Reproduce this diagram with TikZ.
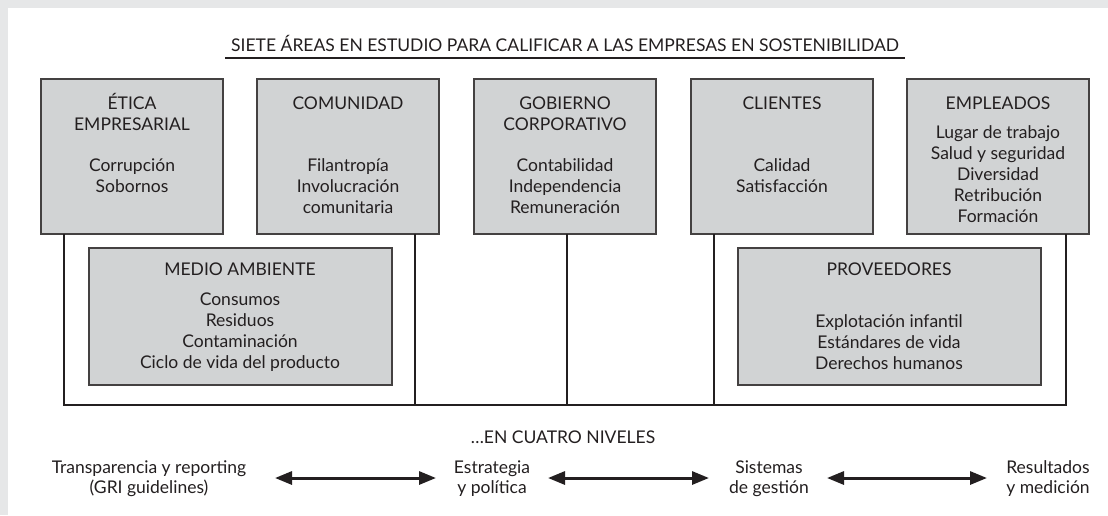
\documentclass[tikz,border=0pt]{standalone}
\usepackage{fontspec}
\setmainfont{Lato}
\usepackage{tikz}
\usetikzlibrary{arrows.meta}
\definecolor{pagegray}{HTML}{E6E7E8}
\definecolor{boxfill}{HTML}{D1D3D4}
\definecolor{ink}{HTML}{231F20}
\tikzset{area/.style={inner sep=0pt, outer sep=0pt, anchor=north west, draw=ink!85, line width=1.1pt, fill=boxfill}}
\tikzset{lbl/.style={inner sep=0pt, anchor=base, text=ink, font=\fontsize{17.5}{21}\selectfont}}
\tikzset{link/.style={draw=ink, line width=2.4pt}}
\tikzset{dbl/.style={draw=ink, line width=3pt, {Triangle[length=17pt,width=13pt]}-{Triangle[length=17pt,width=13pt]}}}

\begin{document}
\begin{tikzpicture}[x=1pt,y=-1pt]
\useasboundingbox (0,0) rectangle (1108,515);
\fill[pagegray] (0,0) rectangle (1108,515);
\fill[white] (8,8) rectangle (1108,515);
% title
\node[lbl] (title) at (565,51) {SIETE ÁREAS EN ESTUDIO PARA CALIFICAR A LAS EMPRESAS EN SOSTENIBILIDAD};
\coordinate (ul) at (225,58);
\coordinate (ur) at (905,58);
\draw[link] (ul) -- (ur);
% seven areas
\node[area, minimum width=182pt, minimum height=155pt] (eti) at (41,79) {};
\node[area, minimum width=182pt, minimum height=155pt] (com) at (257,79) {};
\node[area, minimum width=182pt, minimum height=155pt] (gob) at (474,79) {};
\node[area, minimum width=182pt, minimum height=155pt] (cli) at (691,79) {};
\node[area, minimum width=182pt, minimum height=155pt] (emp) at (907,79) {};
\node[area, minimum width=303pt, minimum height=137pt] (med) at (89,248) {};
\node[area, minimum width=303pt, minimum height=137pt] (pro) at (738,248) {};
\foreach \t [count=\i from 0] in {ÉTICA,EMPRESARIAL} \node[lbl] (eti-h\i) at (132,{109+21*\i}) {\t};
\foreach \t [count=\i from 0] in {Corrupción,Sobornos} \node[lbl] (eti-t\i) at (132,{171+21*\i}) {\t};
\node[lbl] (com-h) at (348,109) {COMUNIDAD};
\foreach \t [count=\i from 0] in {Filantropía,Involucración,comunitaria} \node[lbl] (com-t\i) at (348,{171+21*\i}) {\t};
\foreach \t [count=\i from 0] in {GOBIERNO,CORPORATIVO} \node[lbl] (gob-h\i) at (565,{109+21*\i}) {\t};
\foreach \t [count=\i from 0] in {Contabilidad,Independencia,Remuneración} \node[lbl] (gob-t\i) at (565,{171+21*\i}) {\t};
\node[lbl] (cli-h) at (782,109) {CLIENTES};
\foreach \t [count=\i from 0] in {Calidad,Satisfacción} \node[lbl] (cli-t\i) at (782,{171+21*\i}) {\t};
\node[lbl] (emp-h) at (998,109) {EMPLEADOS};
\foreach \t [count=\i from 0] in {Lugar de trabajo,Salud y seguridad,Diversidad,Retribución,Formación} \node[lbl] (emp-t\i) at (998,{138+21.2*\i}) {\t};
\node[lbl] (med-h) at (240,275) {MEDIO AMBIENTE};
\foreach \t [count=\i from 0] in {Consumos,Residuos,Contaminación,Ciclo de vida del producto} \node[lbl] (med-t\i) at (240,{305+21*\i}) {\t};
\node[lbl] (pro-h) at (889,275) {PROVEEDORES};
\foreach \t [count=\i from 0] in {Explotación infantil,Estándares de vida,Derechos humanos} \node[lbl] (pro-t\i) at (889,{327+21*\i}) {\t};
% frame under the areas
\coordinate (c1) at ([xshift=23pt]eti.south west);
\coordinate (c2) at ([xshift=-24pt]com.south east);
\coordinate (c3) at ([xshift=2pt]gob.south);
\coordinate (c4) at ([xshift=23pt]cli.south west);
\coordinate (c5) at ([xshift=-23pt]emp.south east);
\coordinate (floor) at (0,405);
\draw[link] (c1) -- (c1 |- floor) -- (c5 |- floor) -- (c5);
\foreach \c in {c2,c3,c4} \draw[link] (\c) -- (\c |- floor);
% levels
\node[lbl] (niv) at (563,443) {\dots EN CUATRO NIVELES};
\foreach \t [count=\i from 0] in {Transparencia y reporting,(GRI guidelines)} \node[lbl] (lv1-\i) at (149,{473+20.5*\i}) {\t};
\foreach \t [count=\i from 0] in {Estrategia,y política} \node[lbl] (lv2-\i) at (492,{473+20.5*\i}) {\t};
\foreach \t [count=\i from 0] in {Sistemas,de gestión} \node[lbl] (lv3-\i) at (769,{473+20.5*\i}) {\t};
\foreach \t [count=\i from 0] in {Resultados,y medición} \node[lbl] (lv4-\i) at (1048,{473+20.5*\i}) {\t};
\foreach \n/\a/\b in {1/275/436,2/548/709,3/827/987}{
\coordinate (l\n) at (\a,478);
\coordinate (r\n) at (\b,478);
\draw[dbl] (l\n) -- (r\n);
}
\end{tikzpicture}
\end{document}
